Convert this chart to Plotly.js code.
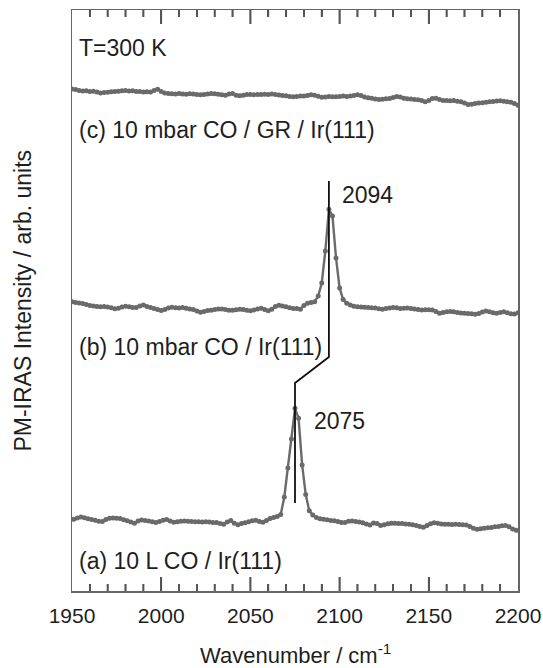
<!DOCTYPE html>
<html>
<head>
<meta charset="utf-8">
<script src="https://cdn.plot.ly/plotly-3.0.1.min.js"></script>
<style>html,body{margin:0;padding:0;background:#fff;}#chart{width:543px;height:668px;}</style>
</head>
<body>
<div id="chart"></div>
<script>
// Wavenumber grids (cm^-1)
const wnEven = [1950,1952,1954,1956,1958,1960,1962,1964,1966,1968,
1970,1972,1974,1976,1978,1980,1982,1984,1986,1988,
1990,1992,1994,1996,1998,2000,2002,2004,2006,2008,
2010,2012,2014,2016,2018,2020,2022,2024,2026,2028,
2030,2032,2034,2036,2038,2040,2042,2044,2046,2048,
2050,2052,2054,2056,2058,2060,2062,2064,2066,2068,
2070,2072,2074,2076,2078,2080,2082,2084,2086,2088,
2090,2092,2094,2096,2098,2100,2102,2104,2106,2108,
2110,2112,2114,2116,2118,2120,2122,2124,2126,2128,
2130,2132,2134,2136,2138,2140,2142,2144,2146,2148,
2150,2152,2154,2156,2158,2160,2162,2164,2166,2168,
2170,2172,2174,2176,2178,2180,2182,2184,2186,2188,
2190,2192,2194,2196,2198,2200];
const wnOdd = [1951,1953,1955,1957,1959,1961,1963,1965,1967,
1969,1971,1973,1975,1977,1979,1981,1983,1985,1987,
1989,1991,1993,1995,1997,1999,2001,2003,2005,2007,
2009,2011,2013,2015,2017,2019,2021,2023,2025,2027,
2029,2031,2033,2035,2037,2039,2041,2043,2045,2047,
2049,2051,2053,2055,2057,2059,2061,2063,2065,2067,
2069,2071,2073,2075,2077,2079,2081,2083,2085,2087,
2089,2091,2093,2095,2097,2099,2101,2103,2105,2107,
2109,2111,2113,2115,2117,2119,2121,2123,2125,2127,
2129,2131,2133,2135,2137,2139,2141,2143,2145,2147,
2149,2151,2153,2155,2157,2159,2161,2163,2165,2167,
2169,2171,2173,2175,2177,2179,2181,2183,2185,2187,
2189,2191,2193,2195,2197,2199];

// (c) 10 mbar CO / GR / Ir(111)  (stacked, arb. units)
const specC = [502,501.5,500.5,500,500.3,499.5,499.8,499,498,498.5,
498.7,499.3,499.5,499.8,500.2,500.5,500,500.3,499.6,499.4,
499,499.2,499,500.5,501.8,499.5,498,497.6,497.2,497,
497.4,497.1,496.8,497.2,496.9,496.4,496.2,496.6,497,497.5,
497.3,496.8,496.2,495.7,497,497.5,495.8,495.2,495.8,496.4,
496.6,496.3,496.5,496.4,496.8,496.5,496.9,496.6,496,495.4,
495.2,494.6,494.3,494.5,494.9,495.1,495.6,496.2,495.8,494.7,
493.8,494.1,494.6,494.3,494.2,494.6,494.9,494.4,494.9,495.6,
496.2,495.6,494.1,493.2,492.8,492.1,491.4,491.8,492.2,492.5,
493.5,494.6,494,492.8,492.2,491.9,491.6,491.2,490.4,489.2,
490.5,492.5,492.8,491.4,490.4,490.6,490.2,490.4,489.8,489.3,
488,486.5,486.8,487.5,488,488.3,488.7,489.2,489.6,490,
490.3,489.8,489.2,488.8,487.4,485.8];

// (b) 10 mbar CO / Ir(111)
const specB = [289.3,288.6,288,287.4,286.6,285.6,285,284.6,284.3,284.6,
284,283.2,282.3,282.8,284,284.7,284.2,283.5,283.6,285,
286,284.6,283.4,282.4,281.4,280.4,281.6,283,283.7,283.2,
283,283.4,282.8,282.1,281.5,280,278.8,279.5,280.4,280.8,
281.4,281.9,282,281.4,280.8,280.7,281.3,281.8,281.4,280.8,
280.3,281,281.9,282.7,281.6,280.2,281.8,284.4,285.8,285,
284.2,283.2,282.6,282.5,281.8,285.5,287.8,288.4,289.2,295,
308,340,381.7,375,333,303,291.5,287.8,286,284.8,
284.2,284,283.8,283.5,283.2,283,282.3,281.8,282.4,283,
283.4,283.3,282.6,282.8,283,282.6,282,281.4,281,281.3,
281.2,281,279.5,277.8,278.4,279.2,279.6,279.3,278.6,278.1,
277.8,277.6,277.2,276.8,277.6,279,280,279.2,278.2,277.7,
278.6,279.3,278.3,277.2,276.9,278.3];

// (a) 10 L CO / Ir(111)
const specA = [71.8,73,74,73.2,72.2,71.6,70.8,69.8,69.6,
71.4,72.8,73,72.7,72.4,71.3,70.2,69,67.8,70,
71,70.6,70,69.2,68.5,69.4,70.8,71.6,70,68.7,
69.2,69.8,70,69.8,69.5,69.2,69.3,69,69.2,68.9,
68.6,68.4,67.4,66.8,69,70.6,67.8,66.2,67.5,68.3,
69.2,70.3,70.8,69.6,68.8,70.4,72.4,73.6,74.4,76.5,
94,123,152,182.7,172.8,126,96.6,80.3,76,73.4,
72.3,71.7,71.2,70.6,70.2,69.4,68.6,68.6,69.8,69.9,
69.4,69,68.2,67,66.1,67.9,67.4,65.6,66.2,67.3,
67.7,67.8,67.6,67.4,67.1,66.7,66.2,65.5,64.4,63.8,
65.4,67.2,68.3,67.8,67.1,66.7,66.8,66.6,66.7,66.4,
66.2,66,64.6,62.8,61.8,62.3,62.8,63.2,63.6,64.2,
64.6,65.3,65.6,64.2,62,60.8];

// Peak-shift guide line (2094 -> 2075)
const guideX = [2094, 2094, 2075, 2075];
const guideY = [410, 234, 208, 88];

// Axis tick values (cm^-1)
const majorTicks = [2000, 2050, 2100, 2150];
const minorTicks = [1960, 1970, 1980, 1990, 2010, 2020, 2030, 2040, 2060, 2070, 2080, 2090,
                    2110, 2120, 2130, 2140, 2160, 2170, 2180, 2190];

// In-plot labels
const labelTexts = ['T=300 K', '(c) 10 mbar CO / GR / Ir(111)', '(b) 10 mbar CO / Ir(111)', '(a) 10 L CO / Ir(111)', '2094', '2075'];
const labelX = [1952.6, 1952.6, 1952.6, 1952.6, 2100.4, 2084.5];
const labelY = [543, 461, 244, 30, 396, 170];

const xTitle = 'Wavenumber / cm<sup>-1</sup>';
const yTitle = 'PM-IRAS Intensity / arb. units';

const FONT = 'Liberation Sans, Arial, Helvetica, sans-serif';
const GRAY = '#6a6a6a';
const TXT = '#1e1e1e';
const AXC = '#555555';
const Y_MAX = 581;

function spec(x, y) {
  return {
    x: x, y: y, type: 'scatter', mode: 'lines+markers',
    line: {color: GRAY, width: 2.4},
    marker: {color: GRAY, size: 5, symbol: 'circle'},
    showlegend: false, hoverinfo: 'skip'
  };
}

// Inside tick marks on bottom and top frame, built from the tick value arrays
function tickTrace(vals, len) {
  const x = [], y = [];
  vals.forEach(v => {
    x.push(v, v, null, v, v, null);
    y.push(0, len, null, Y_MAX, Y_MAX - len, null);
  });
  return {x: x, y: y, type: 'scatter', mode: 'lines', connectgaps: false,
    line: {color: AXC, width: 1.8, simplify: false}, showlegend: false, hoverinfo: 'skip'};
}

const data = [
  spec(wnEven, specC),
  spec(wnEven, specB),
  spec(wnOdd, specA),
  {x: guideX, y: guideY, type: 'scatter', mode: 'lines',
   line: {color: '#111', width: 1.8}, showlegend: false, hoverinfo: 'skip'},
  tickTrace(majorTicks, 14),
  tickTrace(minorTicks, 7)
];

const annotations = labelTexts.map((t, i) => ({
  x: labelX[i], y: labelY[i], xref: 'x', yref: 'y', text: t,
  showarrow: false, xanchor: 'left', yanchor: 'middle',
  font: {family: FONT, size: 23, color: TXT}
}));
annotations.push({
  x: 0.5, y: -0.108, xref: 'paper', yref: 'paper', text: xTitle,
  showarrow: false, xanchor: 'center', yanchor: 'middle',
  font: {family: FONT, size: 22, color: TXT}
});
annotations.push({
  x: -0.112, y: 0.5, xref: 'paper', yref: 'paper', text: yTitle, textangle: -90,
  showarrow: false, xanchor: 'center', yanchor: 'middle',
  font: {family: FONT, size: 23, color: TXT}
});

// Tick marks also as shapes (same tick value arrays), above traces
const shapes = [];
[[majorTicks, 14], [minorTicks, 7]].forEach(([vals, len]) => {
  vals.forEach(v => {
    shapes.push({type: 'line', xref: 'x', yref: 'y', x0: v, x1: v, y0: 0, y1: len, layer: 'above', line: {color: AXC, width: 1.6}});
    shapes.push({type: 'line', xref: 'x', yref: 'y', x0: v, x1: v, y0: Y_MAX, y1: Y_MAX - len, layer: 'above', line: {color: AXC, width: 1.6}});
  });
});

const layout = {
  width: 543, height: 668,
  margin: {l: 72, r: 25, t: 10, b: 77},
  paper_bgcolor: '#fff', plot_bgcolor: '#fff',
  font: {family: FONT, color: TXT},
  xaxis: {
    range: [1950, 2200], tickmode: 'linear', tick0: 1950, dtick: 50,
    ticks: 'inside', ticklen: 14, tickwidth: 1.5, tickcolor: AXC,
    minor: {dtick: 10, ticks: 'inside', ticklen: 7, tickwidth: 1.5, tickcolor: AXC},
    showline: true, linecolor: '#666666', linewidth: 1.5, mirror: 'allticks',
    showgrid: false, zeroline: false,
    tickfont: {family: FONT, size: 21, color: TXT}, ticklabelstandoff: 5
  },
  yaxis: {
    range: [0, Y_MAX], showticklabels: false, ticks: '',
    showline: true, linecolor: '#666666', linewidth: 1.5, mirror: true,
    showgrid: false, zeroline: false
  },
  shapes: shapes,
  annotations: annotations
};

Plotly.newPlot('chart', data, layout, {displayModeBar: false, staticPlot: true});
</script>
</body>
</html>
